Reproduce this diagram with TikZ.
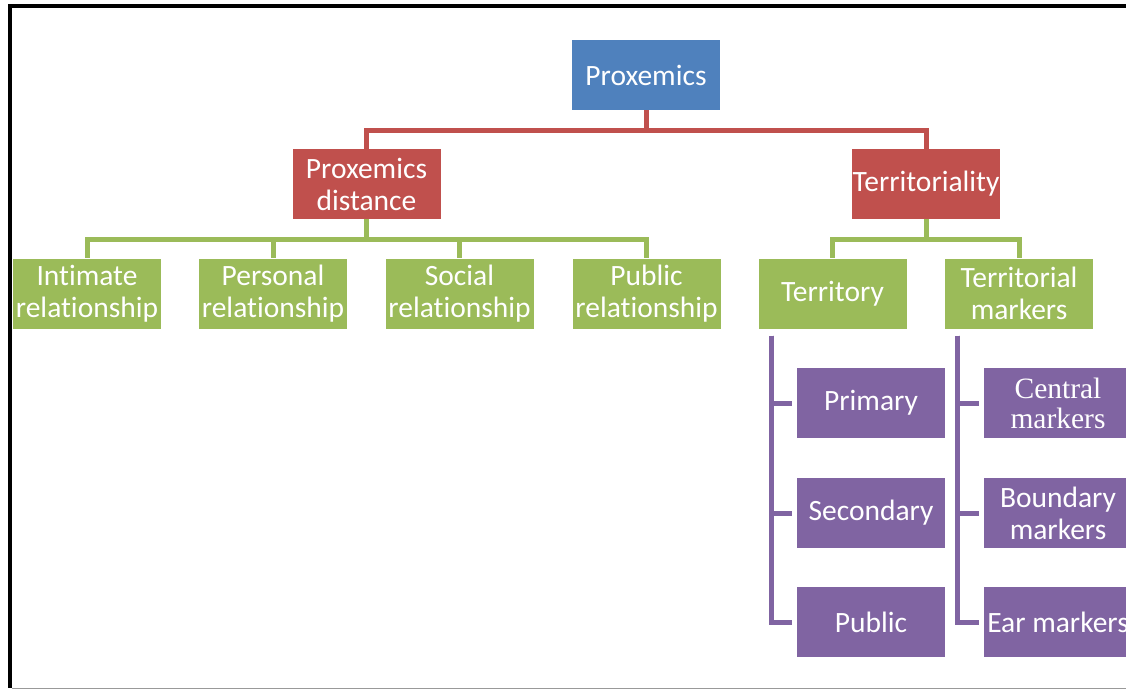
\documentclass[tikz,border=0pt]{standalone}
\usepackage{fontspec}
\setmainfont[Ligatures=NoCommon]{Carlito}
\newfontfamily\timesfont{Liberation Serif}
\definecolor{boxblue}{HTML}{4F81BD}
\definecolor{boxred}{HTML}{C0504D}
\definecolor{boxgreen}{HTML}{9BBB59}
\definecolor{boxpurple}{HTML}{8064A2}
\tikzset{
  tbox/.style={minimum width=148pt, minimum height=70pt, inner sep=0pt,
    text=white, align=center, font=\fontsize{29.5}{32}\selectfont},
  bluebox/.style={tbox, fill=boxblue},
  redbox/.style={tbox, fill=boxred},
  greenbox/.style={tbox, fill=boxgreen},
  purplebox/.style={tbox, fill=boxpurple},
  redline/.style={draw=boxred, line width=5pt},
  greenline/.style={draw=boxgreen, line width=5pt},
  purpleline/.style={draw=boxpurple, line width=5pt, shorten >=5pt},
}
\begin{document}
\begin{tikzpicture}[x=1pt, y=-1pt]
  \useasboundingbox (0,0) rectangle (1126,690);
  \clip (0,0) rectangle (1126,690);
  \fill[white] (0,0) rectangle (1126,690);

  % frame
  \fill[black] (8,4) rectangle (1126,8);
  \fill[black] (8,4) rectangle (12,688);
  \draw[gray!80, line width=1pt] (12,688) -- (1126,688);

  % nodes
  \node[bluebox] (root) at (646,75) {Proxemics};
  \node[redbox] (dist) at (366.5,184) {Proxemics\\distance};
  \node[redbox] (terri) at (926,184) {Territoriality};

  \node[greenbox] (intimate) at (87,293.5) {Intimate\\relationship};
  \node[greenbox] (personal) at (273,293.5) {Personal\\relationship};
  \node[greenbox] (social) at (459.5,293.5) {Social\\relationship};
  \node[greenbox] (publicrel) at (646.5,293.5) {Public\\relationship};
  \node[greenbox] (territory) at (832.5,293.5) {Territory};
  \node[greenbox] (markers) at (1019,293.5) {Territorial\\markers};

  \node[purplebox] (primary) at (871,403) {Primary};
  \node[purplebox] (secondary) at (871,513) {Secondary};
  \node[purplebox] (public) at (871,622) {Public};
  \node[purplebox, font=\timesfont\fontsize{29.5}{30}\selectfont] (central) at (1058,403) {Central\\markers};
  \node[purplebox] (boundary) at (1058,513) {Boundary\\markers};
  \node[purplebox] (ear) at (1058,622) {Ear markers};

  % connectors: level 1
  \draw[redline] (root.south) -- ++(0,20) -| (dist.north);
  \draw[redline] (root.south) -- ++(0,20) -| (terri.north);

  % connectors: level 2
  \foreach \c in {intimate,personal,social,publicrel}
    \draw[greenline] (dist.south) -- ++(0,20) -| (\c.north);
  \foreach \c in {territory,markers}
    \draw[greenline] (terri.south) -- ++(0,20) -| (\c.north);

  % connectors: level 3
  \foreach \c in {primary,secondary,public}
    \draw[purpleline] ([xshift=13pt,yshift=-7pt]territory.south west) |- (\c.west);
  \foreach \c in {central,boundary,ear}
    \draw[purpleline] ([xshift=13pt,yshift=-7pt]markers.south west) |- (\c.west);
\end{tikzpicture}
\end{document}
